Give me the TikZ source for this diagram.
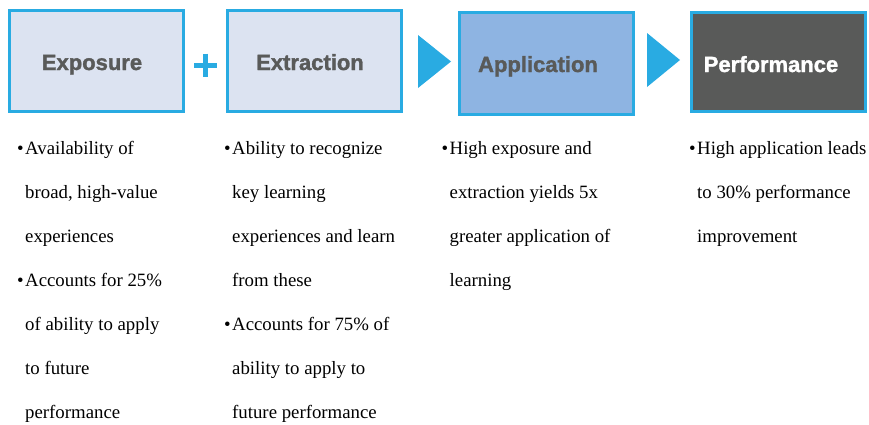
\documentclass[tikz,border=0pt]{standalone}
\usepackage{fontspec}
\setmainfont{Liberation Serif}
\newfontfamily\headfont{Liberation Sans}[BoldFeatures={FakeBold=1.5}]
\definecolor{edgeblue}{RGB}{41,171,226}
\definecolor{paleblue}{RGB}{220,227,241}
\definecolor{midblue}{RGB}{142,180,226}
\definecolor{darkgray}{RGB}{89,90,89}
\newcommand{\bul}{\llap{\textbullet\hspace{1.5pt}}}

\begin{document}
\begin{tikzpicture}[
		x=1pt,y=-1pt,
		stage/.style={draw=edgeblue,line width=3pt,inner sep=0pt,minimum width=174pt,minimum height=101pt},
		stagelabel/.style={anchor=base,inner sep=0pt,font=\headfont\bfseries\fontsize{22}{24}\selectfont,text=darkgray},
		notes/.style={anchor=base west,align=left,inner sep=0pt,font=\fontsize{18.8}{44}\selectfont},
		pointer/.style={fill=edgeblue},
		plus/.style={draw=edgeblue,line width=5pt}
		]
		\useasboundingbox (0,0) rectangle (869,424);

		% the four stages
		\node[stage,fill=paleblue] (expo) at (96,61) {};
		\node[stage,fill=paleblue] (extr) at (314,61) {};
		\node[stage,fill=midblue,minimum height=102pt] (appl) at (546,63.5) {};
		\node[stage,fill=darkgray,minimum height=99pt] (perf) at (778,62) {};

		\node[stagelabel] (expolabel) at (92,70) {Exposure};
		\node[stagelabel] (extrlabel) at (310,70) {Extraction};
		\node[stagelabel] (appllabel) at (538,72) {Application};
		\node[stagelabel,text=white] (perflabel) at (771,72) {Performance};

		% plus sign and pointers between the stages
		\draw[plus] (194,65) -- (217,65);
		\draw[plus] (205.5,53.5) -- (205.5,76.5);
		\fill[pointer] (418,35) -- (451,61.5) -- (418,88) -- cycle;
		\fill[pointer] (647,33) -- (680,60) -- (647,87) -- cycle;

		% notes under each stage (placed by the baseline of the last line)
		\node[notes] (exponotes) at (25,418) {\bul Availability of\\broad, high-value\\experiences\\\bul Accounts for 25\%\\of ability to apply\\to future\\performance};
		\node[notes] (extrnotes) at (232,418) {\bul Ability to recognize\\key learning\\experiences and learn\\from these\\\bul Accounts for 75\% of\\ability to apply to\\future performance};
		\node[notes] (applnotes) at (449.5,286) {\bul High exposure and\\extraction yields 5x\\greater application of\\learning};
		\node[notes] (perfnotes) at (697,242) {\bul High application leads\\to 30\% performance\\improvement};
	\end{tikzpicture}
\end{document}
